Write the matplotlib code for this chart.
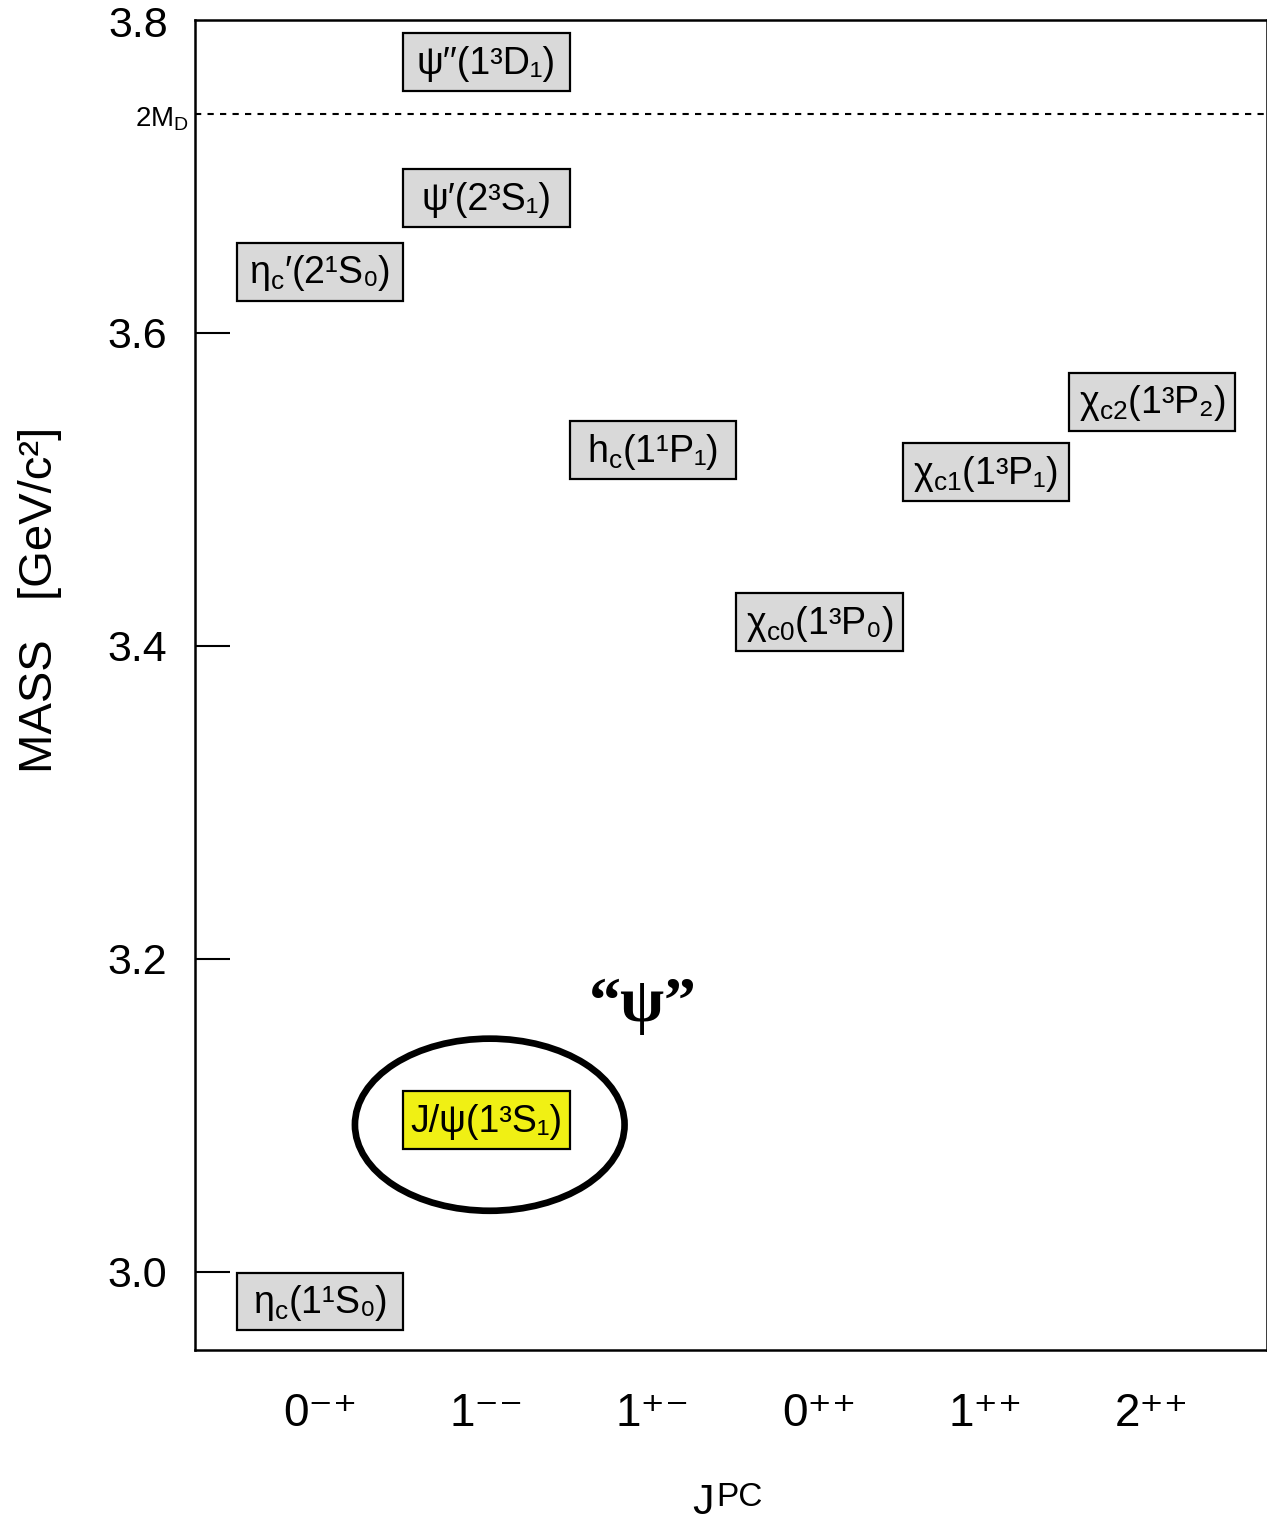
import matplotlib
matplotlib.use("Agg")
import matplotlib.pyplot as plt
from matplotlib.patches import Rectangle, Ellipse

plt.rcParams['mathtext.fontset'] = 'custom'
plt.rcParams['mathtext.rm'] = 'Liberation Sans'
plt.rcParams['mathtext.it'] = 'Liberation Sans:italic'
plt.rcParams['mathtext.bf'] = 'Liberation Sans:bold'
plt.rcParams['font.family'] = ['Liberation Sans', 'DejaVu Sans']
FAM = ['Liberation Sans', 'DejaVu Sans']

# ---- data ----
jpc_labels = ['0⁻⁺', '1⁻⁻', '1⁺⁻', '0⁺⁺', '1⁺⁺', '2⁺⁺']
state_labels = [
    'η$_\\mathrm{c}$(1¹S₀)',
    'J/ψ(1³S₁)',
    'η$_\\mathrm{c}$′(2¹S₀)',
    'ψ′(2³S₁)',
    'ψ′′(1³D₁)',
    'h$_\\mathrm{c}$(1¹P₁)',
    'χ$_\\mathrm{c0}$(1³P₀)',
    'χ$_\\mathrm{c1}$(1³P₁)',
    'χ$_\\mathrm{c2}$(1³P₂)',
]
state_column = [0, 1, 0, 1, 1, 2, 3, 4, 5]
state_mass = [2.981, 3.097, 3.639, 3.686, 3.773, 3.525, 3.415, 3.511, 3.556]
state_color = ['#d9d9d9', '#f0f014', '#d9d9d9', '#d9d9d9', '#d9d9d9',
               '#d9d9d9', '#d9d9d9', '#d9d9d9', '#d9d9d9']
threshold_2MD = 3.740
yticks = [3.0, 3.2, 3.4, 3.6]
ytop_label = 3.8

fig = plt.figure(figsize=(12.67, 15.26), dpi=100)
ax = fig.add_axes([0.1539, 0.1153, 0.8461, 0.8716])
ax.set_xlim(-0.751, 5.69)
ax.set_ylim(2.95, 3.80)

box_w = 1.0
box_h = 0.037
for lab, col, m, c in zip(state_labels, state_column, state_mass, state_color):
    ax.add_patch(Rectangle((col - box_w / 2, m - box_h / 2), box_w, box_h,
                           facecolor=c, edgecolor='black', linewidth=1.6, zorder=3))
    ax.text(col, m - 0.001, lab, ha='center', va='center', fontsize=27,
            family=FAM, zorder=4)

# J/psi ellipse
ax.add_patch(Ellipse((1.02, 3.094), 1.62, 0.110, fill=False,
                     edgecolor='black', linewidth=4.8, zorder=2))
ax.text(1.94, 3.17, '“ψ”', ha='center', va='center', fontsize=46,
        fontweight='bold', family=['Liberation Serif', 'DejaVu Serif'])

# 2M_D threshold
ax.axhline(threshold_2MD, color='black', linewidth=1.5, linestyle=(0, (3, 3)), zorder=1)
ax.annotate('2M$_\\mathrm{D}$', xy=(0, threshold_2MD), xycoords=('axes fraction', 'data'),
            xytext=(-6, -5), textcoords='offset pixels', ha='right', va='center',
            fontsize=20)

# axes styling
ax.set_yticks(yticks)
ax.set_yticklabels([f'{v:.1f}' for v in yticks], fontsize=31)
ax.tick_params(axis='y', direction='in', length=25, width=1.5, pad=20)
ax.annotate(f'{ytop_label:.1f}', xy=(0, ytop_label), xycoords=('axes fraction', 'data'),
            xytext=(-27, -6), textcoords='offset pixels', ha='right', va='center',
            fontsize=31)
ax.set_xticks(range(len(jpc_labels)))
ax.set_xticklabels(jpc_labels, fontsize=33, family=FAM)
ax.tick_params(axis='x', length=0, pad=30)
for s in ['left', 'bottom', 'top', 'right']:
    ax.spines[s].set_linewidth(1.8)

fig.text(40 / 1267, 1 - 600 / 1526, 'MASS   [GeV/c²]', rotation=90,
         ha='center', va='center', fontsize=34)
fig.text(692 / 1267, 1 - 1514 / 1526, 'J', ha='left', va='baseline', fontsize=31)
fig.text(716 / 1267, 1 - 1506 / 1526, 'PC', ha='left', va='baseline', fontsize=24)

fig.savefig('out.png', dpi=100)
